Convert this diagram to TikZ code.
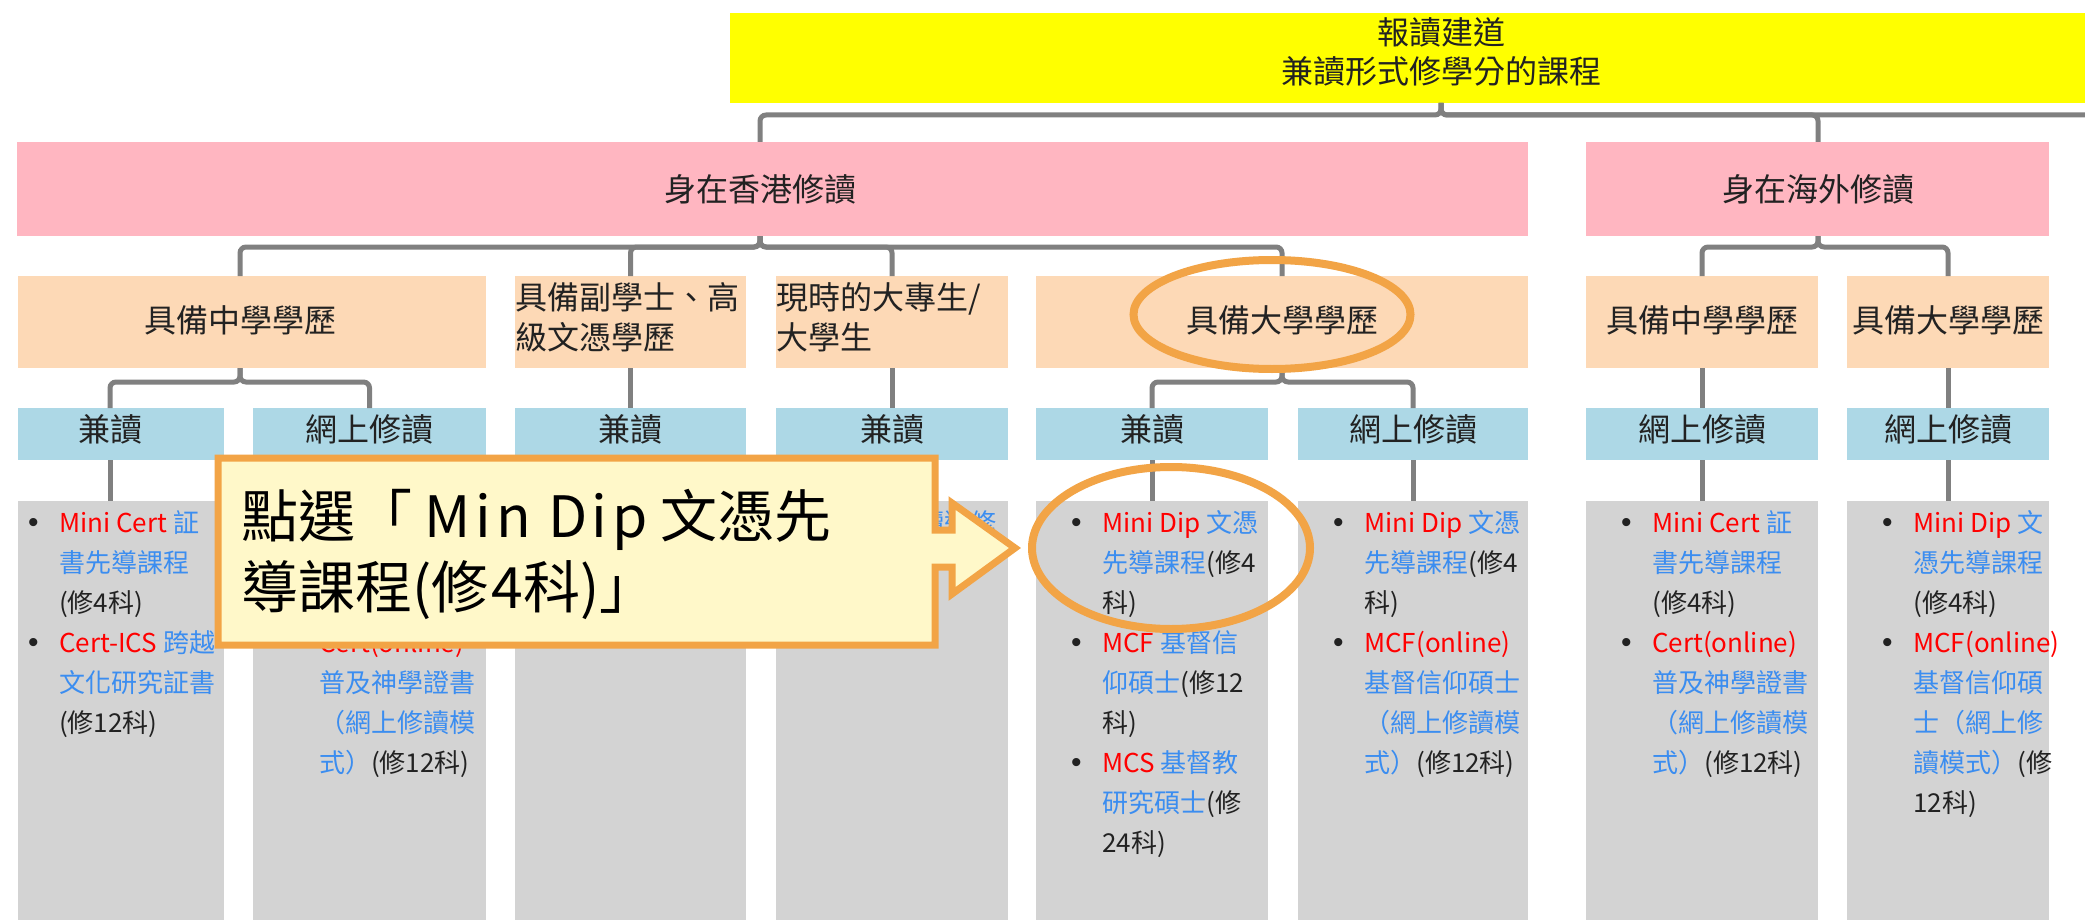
\documentclass[tikz,border=0pt]{standalone}
\usepackage{fontspec}
\setmainfont{Noto Sans CJK TC}
\newfontfamily\bulletfont{Liberation Sans}
\definecolor{yellowc}{HTML}{FFFF00}
\definecolor{pinkc}{HTML}{FFB6C1}
\definecolor{peachc}{HTML}{FDD9B6}
\definecolor{bluec}{HTML}{ADD8E6}
\definecolor{grayc}{HTML}{D3D3D3}
\definecolor{connc}{HTML}{808080}
\definecolor{lred}{HTML}{FF0000}
\definecolor{lblue}{HTML}{3B8DF0}
\definecolor{textc}{HTML}{222222}
\definecolor{callfill}{HTML}{FFF8C9}
\definecolor{orangec}{HTML}{F2A446}
\newcommand\rtx[1]{\textcolor{lred}{#1}}
\newcommand\btx[1]{\textcolor{lblue}{#1}}
\newcommand\lbul{\makebox[31pt][l]{\bulletfont\fontsize{30}{40}\selectfont •}}
\newcommand\lind{\hspace*{31pt}}
\begin{document}
\begin{tikzpicture}[x=1pt,y=-1pt,
  box/.style={inner sep=0pt,outer sep=0pt,anchor=north west,draw=none},
  ybox/.style={box,fill=yellowc},
  pbox/.style={box,fill=pinkc,minimum height=94pt},
  cbox/.style={box,fill=peachc,minimum height=92pt},
  bbox/.style={box,fill=bluec,minimum height=52pt},
  gbox/.style={box,fill=grayc,minimum height=430pt},
  htext/.style={inner sep=0pt,text=textc,font=\fontsize{32}{39}\selectfont,align=center},
  ltext/.style={inner sep=0pt,text=textc,font=\fontsize{32}{40}\selectfont,align=left,anchor=west},
  conn/.style={draw=connc,line width=5pt,rounded corners=6pt},
  list/.style={inner sep=0pt,anchor=base west,text=textc,font=\fontsize{26}{40}\selectfont},
  ring/.style={draw=orangec,line width=8pt},
  callout/.style={draw=orangec,fill=callfill,line width=7pt,line join=miter},
  ctext/.style={inner sep=0pt,anchor=base west,text=black,font=\fontsize{57}{71}\selectfont}]
\useasboundingbox (0,0) rectangle (2085,920);
\fill[white] (0,0) rectangle (2085,920);

% boxes
\node[ybox,minimum width=1440pt,minimum height=90pt] (top) at (730,13) {};
\node[pbox,minimum width=1511pt] (hk) at (17,142) {};
\node[pbox,minimum width=463pt] (os) at (1586,142) {};

\node[cbox,minimum width=468pt] (pc1) at (18,276) {};
\node[cbox,minimum width=231pt] (pc2) at (515,276) {};
\node[cbox,minimum width=232pt] (pc3) at (776,276) {};
\node[cbox,minimum width=492pt] (pc4) at (1036,276) {};
\node[cbox,minimum width=232pt] (pc5) at (1586,276) {};
\node[cbox,minimum width=202pt] (pc6) at (1847,276) {};

\node[bbox,minimum width=206pt] (b1) at (18,408) {};
\node[bbox,minimum width=233pt] (b2) at (253,408) {};
\node[bbox,minimum width=231pt] (b3) at (515,408) {};
\node[bbox,minimum width=232pt] (b4) at (776,408) {};
\node[bbox,minimum width=232pt] (b5) at (1036,408) {};
\node[bbox,minimum width=230pt] (b6) at (1298,408) {};
\node[bbox,minimum width=232pt] (b7) at (1586,408) {};
\node[bbox,minimum width=202pt] (b8) at (1847,408) {};

\node[gbox,minimum width=206pt] (g1) at (18,501) {};
\node[gbox,minimum width=233pt] (g2) at (253,501) {};
\node[gbox,minimum width=231pt] (g3) at (515,501) {};
\node[gbox,minimum width=232pt] (g4) at (776,501) {};
\node[gbox,minimum width=232pt] (g5) at (1036,501) {};
\node[gbox,minimum width=230pt] (g6) at (1298,501) {};
\node[gbox,minimum width=232pt] (g7) at (1586,501) {};
\node[gbox,minimum width=202pt] (g8) at (1847,501) {};

% box texts
\node[htext] (topt) at (1441,52) {報讀建道\\兼讀形式修學分的課程};
\node[htext] (hkt) at (760,189) {身在香港修讀};
\node[htext] (ost) at (1818,189) {身在海外修讀};
\node[htext] (pc1t) at (240,320) {具備中學學歷};
\node[ltext] (pc2t) at (515,317) {具備副學士、高\\級文憑學歷};
\node[ltext] (pc3t) at (776,317) {現時的大專生/\\大學生};
\node[htext] (pc4t) at (1282,320) {具備大學學歷};
\node[htext] (pc5t) at (1702,320) {具備中學學歷};
\node[htext] (pc6t) at (1948,320) {具備大學學歷};
\node[htext] (b1t) at (110,429) {兼讀};
\node[htext] (b2t) at (369,429) {網上修讀};
\node[htext] (b3t) at (630.5,429) {兼讀};
\node[htext] (b4t) at (892,429) {兼讀};
\node[htext] (b5t) at (1152,429) {兼讀};
\node[htext] (b6t) at (1413,429) {網上修讀};
\node[htext] (b7t) at (1702,429) {網上修讀};
\node[htext] (b8t) at (1948,429) {網上修讀};

% connectors
\coordinate (j1) at (0,115);
\coordinate (j2) at (0,247);
\coordinate (j3) at (0,382);
\coordinate (offc) at (2122,142);
\draw[conn] (topt|-top.south) -- (topt|-j1) -| (hkt|-hk.north);
\draw[conn] (topt|-top.south) -- (topt|-j1) -| (ost|-os.north);
\draw[conn] (topt|-top.south) -- (topt|-j1) -| (offc);
\draw[conn] (hkt|-hk.south) -- (hkt|-j2) -| (pc1t|-pc1.north);
\draw[conn] (hkt|-hk.south) -- (hkt|-j2) -| (pc2.north);
\draw[conn] (hkt|-hk.south) -- (hkt|-j2) -| (pc3.north);
\draw[conn] (hkt|-hk.south) -- (hkt|-j2) -| (pc4t|-pc4.north);
\draw[conn] (ost|-os.south) -- (ost|-j2) -| (pc5.north);
\draw[conn] (ost|-os.south) -- (ost|-j2) -| (pc6.north);
\draw[conn] (pc1t|-pc1.south) -- (pc1t|-j3) -| (b1t|-b1.north);
\draw[conn] (pc1t|-pc1.south) -- (pc1t|-j3) -| (b2.north);
\draw[conn] (pc2.south) -- (b3.north);
\draw[conn] (pc3.south) -- (b4.north);
\draw[conn] (pc4t|-pc4.south) -- (pc4t|-j3) -| (b5.north);
\draw[conn] (pc4t|-pc4.south) -- (pc4t|-j3) -| (b6.north);
\draw[conn] (pc5.south) -- (b7.north);
\draw[conn] (pc6.south) -- (b8.north);
\draw[conn] (b1t|-b1.south) -- (b1t|-g1.north);
\draw[conn] (b2.south) -- (g2.north);
\draw[conn] (b3.south) -- (g3.north);
\draw[conn] (b4.south) -- (g4.north);
\draw[conn] (b5.south) -- (g5.north);
\draw[conn] (b6.south) -- (g6.north);
\draw[conn] (b7.south) -- (g7.north);
\draw[conn] (b8.south) -- (g8.north);

% lists
\node[list] (l1) at (28,532) {\begin{tabular}[t]{@{}l@{}}
\lbul\rtx{Mini Cert} \btx{証}\\
\lind\btx{書先導課程}\\
\lind(修4科)\\
\lbul\rtx{Cert-ICS} \btx{跨越}\\
\lind\btx{文化研究証書}\\
\lind(修12科)
\end{tabular}};
\node[list] (l2) at (288,652) {\begin{tabular}[t]{@{}l@{}}
\lbul\rtx{Cert(online)}\\
\lind\btx{普及神學證書}\\
\lind\btx{（網上修讀模}\\
\lind\btx{式）}(修12科)
\end{tabular}};
\node[list] (l4) at (809,532) {\begin{tabular}[t]{@{}l@{}}
\lbul\btx{單科兼讀選修}
\end{tabular}};
\node[list] (l5) at (1071,532) {\begin{tabular}[t]{@{}l@{}}
\lbul\rtx{Mini Dip} \btx{文憑}\\
\lind\btx{先導課程}(修4\\
\lind 科)\\
\lbul\rtx{MCF} \btx{基督信}\\
\lind\btx{仰碩士}(修12\\
\lind 科)\\
\lbul\rtx{MCS} \btx{基督教}\\
\lind\btx{研究碩士}(修\\
\lind 24科)
\end{tabular}};
\node[list] (l6) at (1333,532) {\begin{tabular}[t]{@{}l@{}}
\lbul\rtx{Mini Dip} \btx{文憑}\\
\lind\btx{先導課程}(修4\\
\lind 科)\\
\lbul\rtx{MCF(online)}\\
\lind\btx{基督信仰碩士}\\
\lind\btx{（網上修讀模}\\
\lind\btx{式）}(修12科)
\end{tabular}};
\node[list] (l7) at (1621,532) {\begin{tabular}[t]{@{}l@{}}
\lbul\rtx{Mini Cert} \btx{証}\\
\lind\btx{書先導課程}\\
\lind(修4科)\\
\lbul\rtx{Cert(online)}\\
\lind\btx{普及神學證書}\\
\lind\btx{（網上修讀模}\\
\lind\btx{式）}(修12科)
\end{tabular}};
\node[list] (l8) at (1882,532) {\begin{tabular}[t]{@{}l@{}}
\lbul\rtx{Mini Dip} \btx{文}\\
\lind\btx{憑先導課程}\\
\lind(修4科)\\
\lbul\rtx{MCF(online)}\\
\lind\btx{基督信仰碩}\\
\lind\btx{士（網上修}\\
\lind\btx{讀模式）}(修\\
\lind 12科)
\end{tabular}};

% highlight rings
\draw[ring] (1272,314.5) ellipse [x radius=138.5pt,y radius=54.5pt];
\draw[ring] (1171,548) ellipse [x radius=139pt,y radius=81pt];

% callout
\draw[callout] (218,458) -- (935,458) -- (935,530) -- (952,530) -- (952,503)
  -- (1015,548) -- (952,594) -- (952,567) -- (935,567) -- (935,645)
  -- (218,645) -- cycle;
\node[ctext] (ct) at (241,537) {\begin{tabular}[t]{@{}l@{}}
點選「 {\addfontfeature{LetterSpace=8}Min Dip} 文憑先\\
導課程({\addfontfeature{LetterSpace=6}修4}科)」
\end{tabular}};
\end{tikzpicture}
\end{document}
